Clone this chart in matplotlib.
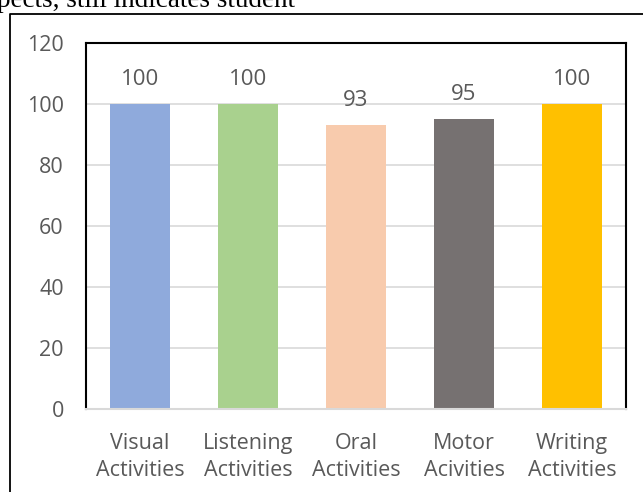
import matplotlib.pyplot as plt
from matplotlib.lines import Line2D

categories = ["Visual\nActivities", "Listening\nActivities", "Oral\nActivities",
              "Motor\nAcivities", "Writing\nActivities"]
scores = [100, 100, 93, 95, 100]
bar_colors = ["#8FAADC", "#A9D18E", "#F8CBAD", "#767171", "#FFC000"]
y_ticks = [0, 20, 40, 60, 80, 100, 120]

W, H = 643, 492
TEXT = "#595959"

plt.rcParams["font.family"] = ["Open Sans", "DejaVu Sans"]

fig = plt.figure(figsize=(W / 100, H / 100), dpi=100)

# surrounding document text and chart frame
fig.text(-0.004, 1 - 7 / H, "pects, still indicates student", family="Liberation Serif",
         fontsize=19.5, color="black", ha="left", va="baseline")
fig.add_artist(Line2D([10 / W, 10 / W, 1.0], [0.0, 1 - 14 / H, 1 - 14 / H],
                      transform=fig.transFigure, color="black", lw=1.3))

left, right, top, bottom = 86, 626, 43, 409
ax = fig.add_axes([left / W, 1 - bottom / H, (right - left) / W, (bottom - top) / H])

x = range(len(categories))
bars = ax.bar(x, scores, width=0.56, color=bar_colors, zorder=2)
for rect, val in zip(bars, scores):
    ax.annotate(f"{val}", (rect.get_x() + rect.get_width() / 2, val),
                xytext=(0, 10), textcoords="offset points", ha="center", va="bottom",
                fontsize=16, color=TEXT)

ax.set_xlim(-0.5, len(categories) - 0.5)
ax.set_ylim(0, 120)
ax.set_yticks(y_ticks)
ax.set_xticks(list(x), categories, linespacing=1.4)
ax.tick_params(axis="both", length=0, labelsize=15.5, labelcolor=TEXT)
ax.tick_params(axis="y", pad=16)
ax.tick_params(axis="x", pad=17)
ax.yaxis.grid(True, color="#D9D9D9", lw=1.2, zorder=0)
ax.set_axisbelow(True)

for side in ("left", "top", "right"):
    ax.spines[side].set_color("black")
    ax.spines[side].set_linewidth(1.5)
ax.spines["bottom"].set_color("#D9D9D9")
ax.spines["bottom"].set_linewidth(1.5)

fig.savefig("out.png", dpi=100)
